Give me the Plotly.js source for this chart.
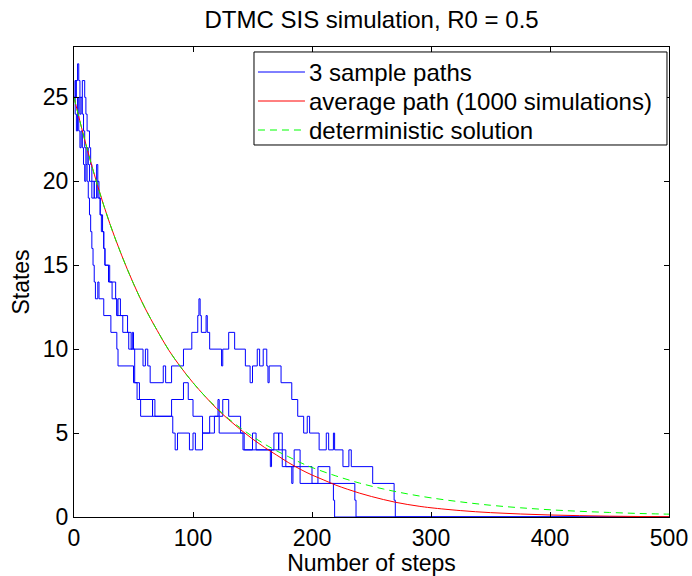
<!DOCTYPE html>
<html>
<head>
<meta charset="utf-8">
<script src="https://cdn.plot.ly/plotly-3.0.1.min.js"></script>
<style>html,body{margin:0;padding:0;background:#fff;}#chart{width:692px;height:576px;}</style>
</head>
<body>
<div id="chart"></div>
<script>
// Sample path 1 (extinct near step 270): change points
const pathH_steps = [0,1,3,4,5,7,9,10,11,13,14,15,17,19,20,22,23,25,26,30,35,36,37,39,45,48,49,50,58,60,62,64,75,77,82,92,99,104,105,106,107,111,112,114,124,125,130,135,144,148,150,154,156,159,162,163,164,174,183,188,193,196,198,206,212,214,218,219,226,231,233,251,269,270,500];
const pathH_states = [25,26,27,26,25,26,25,24,23,22,21,20,19,20,19,18,17,16,15,14,13,12,13,12,11,10,11,10,9,10,9,8,9,8,9,10,11,12,13,12,11,12,11,10,9,10,11,10,9,8,9,10,9,10,9,8,9,8,7,6,5,6,5,4,5,4,5,4,3,4,3,2,1,0,0];
// Sample path 2 (extinct near step 220)
const pathA_steps = [0,1,2,3,4,5,6,7,8,9,10,11,12,13,14,15,16,17,18,20,21,25,31,36,37,50,53,56,66,68,83,85,87,97,100,102,108,114,121,122,125,130,140,143,165,166,172,175,183,184,190,218,219,500];
const pathA_states = [25,24,23,24,23,22,23,22,21,20,21,20,19,18,17,16,15,14,13,14,13,12,11,10,9,8,7,6,7,6,5,4,5,4,5,4,5,6,7,6,7,6,5,4,3,4,5,3,2,3,2,1,0,0];
// Sample path 3 (extinct near step 237)
const pathB_steps = [0,1,2,3,4,5,6,7,8,9,10,11,12,13,15,17,19,20,21,22,24,25,26,29,32,36,41,46,51,55,66,82,92,96,100,108,118,122,142,150,153,168,172,178,185,190,200,205,215,236,237,500];
const pathB_states = [25,26,25,24,25,24,25,24,23,22,21,22,21,20,19,20,21,20,19,18,17,16,15,14,13,12,11,10,8,7,6,7,8,7,6,5,6,5,4,5,4,5,4,3,4,3,2,3,2,1,0,0];

// Average path (1000 simulations) and deterministic solution
const avg_steps = [0,10,20,30,40,50,60,70,80,90,100,110,120,130,140,150,160,170,180,190,200,210,220,230,240,250,260,270,280,290,300,325,350,375,400,425,450,475,500];
const avg_values = [25,22.2,19.7,17.5,15.6,13.9,12.4,11.1,9.9,8.9,8.0,7.2,6.45,5.8,5.2,4.65,4.15,3.7,3.25,2.85,2.5,2.2,1.9,1.65,1.42,1.22,1.04,0.88,0.75,0.64,0.55,0.38,0.26,0.18,0.12,0.08,0.05,0.03,0.02];
const det_steps = [0,10,20,30,40,50,60,70,80,90,100,110,120,130,140,150,160,170,180,190,200,220,240,260,280,300,325,350,375,400,425,450,475,500];
const det_values = [25,22.2,19.7,17.5,15.6,13.9,12.4,11.1,9.9,8.9,8.0,7.2,6.5,5.85,5.3,4.8,4.35,3.95,3.6,3.25,2.95,2.45,2.02,1.67,1.38,1.14,0.9,0.7,0.55,0.43,0.34,0.27,0.21,0.17];

// Legend entries
const legend_labels = ['3 sample paths', 'average path (1000 simulations)', 'deterministic solution'];
const legend_colors = ['#0000ff', '#ff0000', '#00ff00'];
const legend_dash = ['solid', 'solid', '7px,5px'];

const blue = '#0000ff';
const traces = [
  {x: pathH_steps, y: pathH_states, type: 'scatter', mode: 'lines', line: {color: blue, width: 1, shape: 'hv'}, name: legend_labels[0], showlegend: false},
  {x: pathA_steps, y: pathA_states, type: 'scatter', mode: 'lines', line: {color: blue, width: 1, shape: 'hv'}, name: legend_labels[0], showlegend: false},
  {x: pathB_steps, y: pathB_states, type: 'scatter', mode: 'lines', line: {color: blue, width: 1, shape: 'hv'}, name: legend_labels[0], showlegend: false},
  {x: avg_steps, y: avg_values, type: 'scatter', mode: 'lines', line: {color: legend_colors[1], width: 1, shape: 'spline'}, name: legend_labels[1], showlegend: false},
  {x: det_steps, y: det_values, type: 'scatter', mode: 'lines', line: {color: legend_colors[2], width: 1, dash: legend_dash[2], shape: 'spline'}, name: legend_labels[2], showlegend: false}
];

const font = {family: '"Liberation Sans", Arial, Helvetica, sans-serif', size: 24, color: '#000'};
const tfont = {family: font.family, size: 23, color: '#000'};

// Legend box (paper coordinates)
const shapes = [{type: 'rect', xref: 'paper', yref: 'paper', x0: 0.3025, x1: 0.9966, y0: 0.7915, y1: 0.9894,
                 line: {color: '#000', width: 1}, fillcolor: '#fff', layer: 'above'}];
const annotations = [];
const rowY = [0.9468, 0.8851, 0.8234];
legend_labels.forEach((lab, i) => {
  shapes.push({type: 'line', xref: 'paper', yref: 'paper', x0: 0.3092, x1: 0.3882, y0: rowY[i], y1: rowY[i],
               line: {color: legend_colors[i], width: 1, dash: legend_dash[i]}, layer: 'above'});
  annotations.push({xref: 'paper', yref: 'paper', x: 0.3916, y: rowY[i], xanchor: 'left', yanchor: 'middle',
                    text: lab, showarrow: false, font: font});
});

const layout = {
  width: 692, height: 576,
  margin: {l: 74, r: 23, t: 47, b: 59},
  paper_bgcolor: '#fff', plot_bgcolor: '#fff',
  font: font,
  showlegend: false,
  title: {text: 'DTMC SIS simulation, R0 = 0.5', font: font, x: 0.537, xanchor: 'center', y: 0.966, yanchor: 'middle'},
  xaxis: {
    range: [0, 500], tickvals: [0,100,200,300,400,500], ticks: 'inside', ticklen: 5, tickcolor: '#000',
    showline: true, linecolor: '#000', linewidth: 1, mirror: 'ticks', showgrid: false, zeroline: false,
    tickfont: tfont, title: {text: 'Number of steps', font: tfont, standoff: 2}
  },
  yaxis: {
    range: [0, 28], tickvals: [0,5,10,15,20,25], ticks: 'inside', ticklen: 5, tickcolor: '#000',
    showline: true, linecolor: '#000', linewidth: 1, mirror: 'ticks', showgrid: false, zeroline: false,
    tickfont: tfont, title: {text: 'States', font: tfont, standoff: 6}
  },
  shapes: shapes,
  annotations: annotations
};
Plotly.newPlot('chart', traces, layout, {displayModeBar: false, staticPlot: true});
</script>
</body>
</html>
